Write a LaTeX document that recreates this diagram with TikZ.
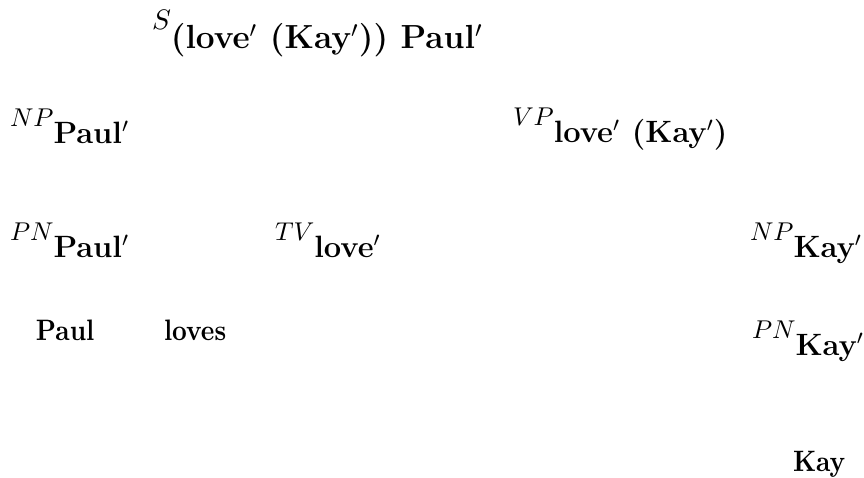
\documentclass[tikz,border=0pt]{standalone}
\newcommand{\catlab}[2]{\raisebox{7pt}{$#1$}{\large\bfseries #2}}
\newcommand{\toplab}[2]{\raisebox{7.5pt}{\fontsize{10.5}{12}\selectfont$#1$}{\fontsize{13}{15}\selectfont\bfseries #2}}
\newcommand{\leafword}[1]{\scalebox{1}[1.15]{#1}}
\tikzset{
  lab/.style={anchor=base west, inner sep=0pt, outer sep=0pt},
  leaf/.style={anchor=base west, inner sep=0pt, outer sep=0pt, font=\bfseries}
}
\begin{document}
\begin{tikzpicture}[x=0.389pt, y=-0.389pt]
\useasboundingbox (0,0) rectangle (864,478);
\node[lab] (s) at (152,49) {\toplab{S}{(love$'$ (Kay$'$)) Paul$'$}};
\node[lab] (np1) at (10,144) {\catlab{NP}{Paul$'$}};
\node[lab] (vp) at (513,143) {\catlab{VP}{love$'$ (Kay$'$)}};
\node[lab] (pn1) at (10,258) {\catlab{PN}{Paul$'$}};
\node[lab] (tv) at (275,258) {\catlab{TV}{love$'$}};
\node[lab] (np2) at (750,258) {\catlab{NP}{Kay$'$}};
\node[leaf] (paul) at (36,341) {\leafword{Paul}};
\node[leaf] (loves) at (164,341) {\leafword{loves}};
\node[lab] (pn2) at (752,356) {\catlab{PN}{Kay$'$}};
\node[leaf] (kay) at (793,472) {\leafword{Kay}};
\end{tikzpicture}
\end{document}
